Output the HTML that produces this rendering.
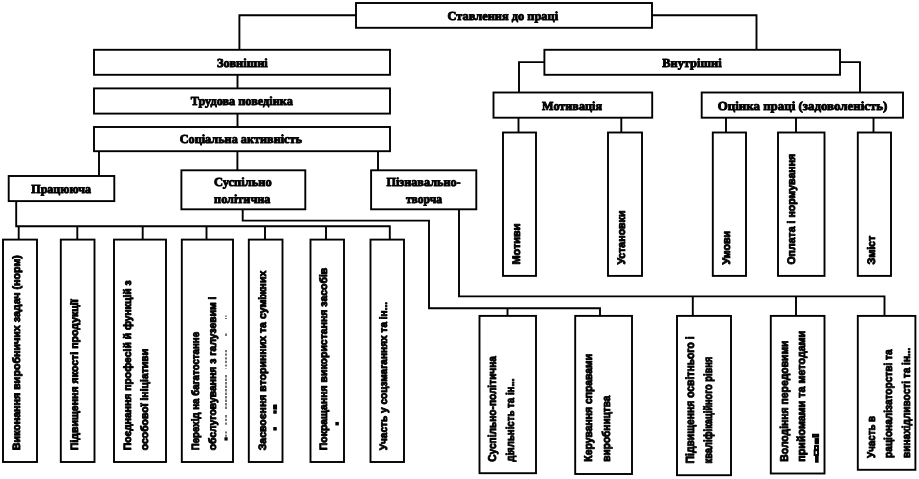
<!DOCTYPE html>
<html><head><meta charset="utf-8"><title>Ставлення до праці</title>
<style>
html,body{margin:0;padding:0;background:#fff;}
body{width:919px;height:479px;overflow:hidden;}
svg{display:block;filter:grayscale(1);}
.h{font-family:"Liberation Serif",serif;font-weight:bold;font-size:12.3px;fill:#000;stroke:#000;stroke-width:0.9px;stroke-linejoin:round;}
.v{font-family:"Liberation Sans",sans-serif;font-weight:bold;font-size:10.9px;fill:#000;stroke:#000;stroke-width:0.9px;stroke-linejoin:round;}
rect,polyline{fill:none;stroke:#000;stroke-width:1.9;stroke-linejoin:miter;}
text{text-rendering:geometricPrecision;}
</style></head><body>
<svg width="919" height="479" viewBox="0 0 919 479">
<rect x="0" y="0" width="919" height="479" style="fill:#fff;stroke:none"/>

<g id="lines">
<polyline points="356,15.2 239.4,15.2 239.4,49.8"/>
<polyline points="652,15.2 756.5,15.2 756.5,49.8"/>
<polyline points="237.5,74.8 237.5,88.4"/>
<polyline points="237.5,113.6 237.5,127"/>
<polyline points="99,151.2 99,176"/>
<polyline points="237.4,151.2 237.4,170.3"/>
<polyline points="378,151.2 378,170.3"/>
<polyline points="16.2,201.1 16.2,226.3 389.8,226.3 389.8,239.6"/>
<polyline points="18.7,226.3 18.7,239.6"/>
<polyline points="77.3,226.3 77.3,239.6"/>
<polyline points="142.7,226.3 142.7,239.6"/>
<polyline points="206.5,226.3 206.5,239.6"/>
<polyline points="265,226.3 265,239.6"/>
<polyline points="326,226.3 326,239.6"/>
<polyline points="242.7,209.3 242.7,220.6 429,220.6 429,308.3 600,308.3 600,315.9"/>
<polyline points="507.5,308.3 507.5,315.9"/>
<polyline points="459,209.3 459,296.4 884.5,296.4 884.5,315.9"/>
<polyline points="692.8,296.4 692.8,315.9"/>
<polyline points="796,296.4 796,315.9"/>
<polyline points="544.4,62.1 519,62.1 519,92.5"/>
<polyline points="840,62.1 860,62.1 860,92.5"/>
<polyline points="518.5,117.7 518.5,132.5"/>
<polyline points="621.3,117.7 621.3,132.5"/>
<polyline points="726,117.7 726,132.5"/>
<polyline points="796,117.7 796,132.5"/>
<polyline points="873.5,117.7 873.5,132.5"/>
</g>
<g id="boxes">
<rect x="356" y="3" width="296" height="24.8"/>
<rect x="94" y="49.8" width="296" height="25"/>
<rect x="94" y="88.4" width="296" height="25.2"/>
<rect x="94" y="127" width="296" height="24.2"/>
<rect x="544.4" y="49.8" width="295.6" height="25"/>
<rect x="493.5" y="92.5" width="158.7" height="25.2"/>
<rect x="701.7" y="92.5" width="201.3" height="25.2"/>
<rect x="8.7" y="176" width="105.6" height="25.1"/>
<rect x="181.4" y="170.3" width="123.9" height="39"/>
<rect x="371.1" y="170.3" width="105.2" height="39"/>
<rect x="3" y="239.6" width="34" height="222.4"/>
<rect x="60.8" y="239.6" width="33.7" height="222.4"/>
<rect x="114" y="239.6" width="52" height="222.4"/>
<rect x="181.8" y="239.6" width="51.2" height="222.4"/>
<rect x="248.8" y="239.6" width="33.7" height="222.4"/>
<rect x="310.5" y="239.6" width="33.5" height="222.4"/>
<rect x="370.5" y="239.6" width="33.5" height="222.4"/>
<rect x="503" y="132.5" width="33" height="143.4"/>
<rect x="608" y="132.5" width="34" height="143.4"/>
<rect x="712.8" y="132.5" width="33.2" height="143.4"/>
<rect x="778" y="132.5" width="46.5" height="143.4"/>
<rect x="857.8" y="132.5" width="33.2" height="143.4"/>
<rect x="479.5" y="315.9" width="56.5" height="157.3"/>
<rect x="575.2" y="315.9" width="56.8" height="158.1"/>
<rect x="677" y="315.9" width="54" height="159.3"/>
<rect x="770.8" y="315.9" width="53.7" height="157.6"/>
<rect x="857.8" y="315.9" width="57.6" height="153.9"/>
</g>
<g id="htext">
<text class="h" x="447.5" y="20" textLength="110.6" lengthAdjust="spacingAndGlyphs">Ставлення до праці</text>
<text class="h" x="217" y="66.7" textLength="50.7" lengthAdjust="spacingAndGlyphs">Зовнішні</text>
<text class="h" x="190.7" y="104.9" textLength="102.1" lengthAdjust="spacingAndGlyphs">Трудова поведінка</text>
<text class="h" x="179.7" y="143.4" textLength="122.3" lengthAdjust="spacingAndGlyphs">Соціальна активність</text>
<text class="h" x="662.2" y="67" textLength="59.4" lengthAdjust="spacingAndGlyphs">Внутрішні</text>
<text class="h" x="542.1" y="109.8" textLength="59.9" lengthAdjust="spacingAndGlyphs">Мотивація</text>
<text class="h" x="717.8" y="110.1" textLength="169.6" lengthAdjust="spacingAndGlyphs">Оцінка праці (задоволеність)</text>
<text class="h" x="31.3" y="193.1" textLength="59.7" lengthAdjust="spacingAndGlyphs">Працююча</text>
<text class="h" x="214.1" y="185.6" textLength="57.6" lengthAdjust="spacingAndGlyphs">Суспільно</text>
<text class="h" x="214.1" y="202.7" textLength="56.4" lengthAdjust="spacingAndGlyphs">політична</text>
<text class="h" x="386.4" y="185.6" textLength="74.3" lengthAdjust="spacingAndGlyphs">Пізнавально-</text>
<text class="h" x="405.9" y="202.7" textLength="36.1" lengthAdjust="spacingAndGlyphs">творча</text>
</g>
<g id="vtext">
<text class="v" style="font-size:10.6px" transform="translate(19.7 450.3) rotate(-90)" x="0" y="0" textLength="195.2" lengthAdjust="spacingAndGlyphs">Виконання виробничих задач (норм)</text>
<text class="v" style="font-size:10.6px" transform="translate(77.5 450.3) rotate(-90)" x="0" y="0" textLength="151" lengthAdjust="spacingAndGlyphs">Підвищення якості продукції</text>
<text class="v" style="font-size:10.6px" transform="translate(130.7 450.3) rotate(-90)" x="0" y="0" textLength="170" lengthAdjust="spacingAndGlyphs">Поєднання професій й функцій з</text>
<text class="v" style="font-size:10.6px" transform="translate(148.2 450.3) rotate(-90)" x="0" y="0" textLength="101.4" lengthAdjust="spacingAndGlyphs">особової ініціативи</text>
<text class="v" style="font-size:10.6px" transform="translate(198.5 450.3) rotate(-90)" x="0" y="0" textLength="118.4" lengthAdjust="spacingAndGlyphs">Перехід на багатостанне</text>
<text class="v" style="font-size:10.6px" transform="translate(216 450.3) rotate(-90)" x="0" y="0" textLength="153.8" lengthAdjust="spacingAndGlyphs">обслуговування з галузевим і</text>
<text class="v" style="font-size:10.6px" transform="translate(265.5 450.3) rotate(-90)" x="0" y="0" textLength="179.6" lengthAdjust="spacingAndGlyphs">Засвоєння вторинних та суміжних</text>
<text class="v" style="font-size:10.6px" transform="translate(327.2 450.3) rotate(-90)" x="0" y="0" textLength="182.6" lengthAdjust="spacingAndGlyphs">Покращання використання засобів</text>
<text class="v" style="font-size:10.6px" transform="translate(387.2 450.3) rotate(-90)" x="0" y="0" textLength="148.4" lengthAdjust="spacingAndGlyphs">Участь у соцзмаганнях  та ін...</text>
<text class="v" style="font-size:10.9px" transform="translate(519.7 264.6) rotate(-90)" x="0" y="0" textLength="41.2" lengthAdjust="spacingAndGlyphs">Мотиви</text>
<text class="v" style="font-size:10.9px" transform="translate(624.7 264.6) rotate(-90)" x="0" y="0" textLength="54" lengthAdjust="spacingAndGlyphs">Установки</text>
<text class="v" style="font-size:10.9px" transform="translate(729.5 264.6) rotate(-90)" x="0" y="0" textLength="33.8" lengthAdjust="spacingAndGlyphs">Умови</text>
<text class="v" style="font-size:10.9px" transform="translate(794.7 264.6) rotate(-90)" x="0" y="0" textLength="110.8" lengthAdjust="spacingAndGlyphs">Оплата і нормування</text>
<text class="v" style="font-size:10.9px" transform="translate(874.5 264.6) rotate(-90)" x="0" y="0" textLength="29" lengthAdjust="spacingAndGlyphs">Зміст</text>
<text class="v" style="font-size:11.3px" transform="translate(496.2 461.7) rotate(-90)" x="0" y="0" textLength="105.7" lengthAdjust="spacingAndGlyphs">Суспільно-політична</text>
<text class="v" style="font-size:11.3px" transform="translate(513.8 461.7) rotate(-90)" x="0" y="0" textLength="83.2" lengthAdjust="spacingAndGlyphs">діяльність та ін...</text>
<text class="v" style="font-size:11.3px" transform="translate(591.9 461.7) rotate(-90)" x="0" y="0" textLength="107.9" lengthAdjust="spacingAndGlyphs">Керування справами</text>
<text class="v" style="font-size:11.3px" transform="translate(609.5 461.7) rotate(-90)" x="0" y="0" textLength="66.2" lengthAdjust="spacingAndGlyphs">виробництва</text>
<text class="v" style="font-size:11.8px" transform="translate(693.7 463.4) rotate(-90)" x="0" y="0" textLength="127" lengthAdjust="spacingAndGlyphs">Підвищення освітнього і</text>
<text class="v" style="font-size:11.8px" transform="translate(711.9 463.4) rotate(-90)" x="0" y="0" textLength="106.6" lengthAdjust="spacingAndGlyphs">кваліфікаційного рівня</text>
<text class="v" style="font-size:11.3px" transform="translate(787.5 461.7) rotate(-90)" x="0" y="0" textLength="121.2" lengthAdjust="spacingAndGlyphs">Володіння передовими</text>
<text class="v" style="font-size:11.3px" transform="translate(805.1 461.7) rotate(-90)" x="0" y="0" textLength="131" lengthAdjust="spacingAndGlyphs">прийомами та методами</text>
<text class="v" style="font-size:11.3px" transform="translate(874.5 457.9) rotate(-90)" x="0" y="0" textLength="42" lengthAdjust="spacingAndGlyphs">Участь в</text>
<text class="v" style="font-size:11.3px" transform="translate(892.1 457.9) rotate(-90)" x="0" y="0" textLength="108.5" lengthAdjust="spacingAndGlyphs">раціоналізаторстві та</text>
<text class="v" style="font-size:11.3px" transform="translate(909.7 457.9) rotate(-90)" x="0" y="0" textLength="110.3" lengthAdjust="spacingAndGlyphs">винахідливості та ін...</text>
</g>
<g id="artifacts" style="fill:#000;stroke:none">
<!-- clipped third line in box 4 -->
<g style="fill:none;stroke:#000;stroke-width:1.1">
<line x1="226" y1="315.5" x2="226" y2="319" stroke-dasharray="1.3 1.2"/>
<line x1="226" y1="333.5" x2="226" y2="336"/>
<line x1="226" y1="350" x2="226" y2="368.5" stroke-dasharray="2.2 1.4"/>
<line x1="226" y1="375" x2="226" y2="410" stroke-dasharray="2.4 1.1"/>
<line x1="226" y1="415" x2="226" y2="425" stroke-dasharray="2.4 1.3"/>
<line x1="226" y1="431.5" x2="226" y2="437" stroke-dasharray="2 1.2"/>
</g>
<rect x="225.4" y="438.2" width="1.3" height="1.4"/>
<!-- box 5 dots -->
<rect x="274" y="405.6" width="2" height="1"/><rect x="275.2" y="405.6" width="0.9" height="2.8"/><rect x="274" y="407.6" width="2" height="0.9"/>
<rect x="274.2" y="411.2" width="1.6" height="1.6"/>
<rect x="274.2" y="428" width="1.6" height="1.6"/>
<!-- box 6 dot -->
<rect x="336.3" y="422.9" width="1.6" height="1.6"/>
<!-- box 11 clipped third line -->
<rect x="813" y="434.7" width="5.2" height="2"/>
<rect x="815.6" y="439" width="2.5" height="1.5"/>
<rect x="815.6" y="441.6" width="2.5" height="1.8"/>
<rect x="815" y="446" width="3" height="3.6"/><rect x="814.6" y="450.2" width="3.4" height="4.8"/>
<rect x="816" y="456.6" width="1.7" height="5.2"/>
</g>

</svg></body></html>
